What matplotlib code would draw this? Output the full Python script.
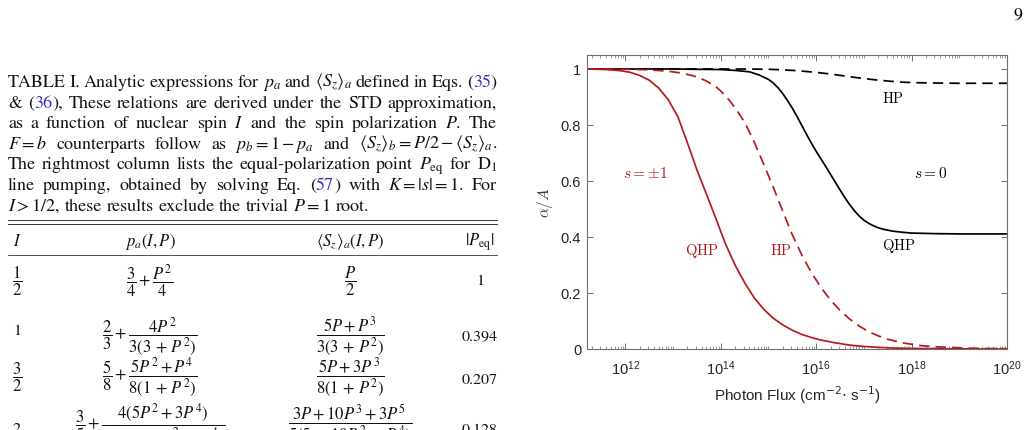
import re

import matplotlib
matplotlib.use("Agg")
import matplotlib.pyplot as plt
import numpy as np
from matplotlib.ticker import LogLocator, NullFormatter
from matplotlib.transforms import IdentityTransform

# ---- curve data (x given as log10 of photon flux) ----
RED_QHP_LOGX = [11.2, 11.6, 11.9, 12.1, 12.3, 12.5, 12.7, 12.9, 13.1, 13.3, 13.5, 13.7, 13.9, 14.1,
                14.3, 14.5, 14.7, 14.9, 15.1, 15.3, 15.5, 15.7, 15.9, 16.1, 16.4, 16.7, 17.0, 17.5,
                18.0, 19.0, 20.0]
RED_QHP = [1.0, 0.998, 0.994, 0.988, 0.977, 0.96, 0.932, 0.89, 0.83, 0.737, 0.64, 0.553, 0.465, 0.375,
           0.3, 0.237, 0.183, 0.142, 0.11, 0.086, 0.067, 0.052, 0.041, 0.032, 0.022, 0.014, 0.009, 0.004,
           0.002, 0.0005, 0.0]

RED_HP_LOGX = [11.2, 12.0, 12.5, 12.9, 13.2, 13.5, 13.7, 13.9, 14.1, 14.3, 14.5, 14.7, 14.9, 15.1,
               15.3, 15.5, 15.7, 15.9, 16.1, 16.3, 16.5, 16.7, 16.9, 17.1, 17.3, 17.5, 17.8, 18.2,
               18.6, 19.0, 19.5, 20.0]
RED_HP = [1.0, 0.999, 0.997, 0.992, 0.985, 0.972, 0.957, 0.937, 0.905, 0.862, 0.81, 0.74, 0.66, 0.578,
          0.492, 0.408, 0.335, 0.273, 0.22, 0.175, 0.138, 0.107, 0.082, 0.062, 0.047, 0.035, 0.022, 0.012,
          0.007, 0.004, 0.002, 0.001]

BLACK_QHP_LOGX = [11.2, 13.0, 14.0, 14.3, 14.6, 14.8, 15.0, 15.1, 15.2, 15.3, 15.4, 15.5, 15.6, 15.7,
                  15.8, 15.9, 16.0, 16.2, 16.4, 16.5, 16.6, 16.7, 16.8, 16.9, 17.0, 17.1, 17.2, 17.3,
                  17.4, 17.6, 17.8, 18.0, 18.5, 19.0, 20.0]
BLACK_QHP = [1.0, 1.0, 0.998, 0.995, 0.99, 0.979, 0.963, 0.95, 0.933, 0.912, 0.887, 0.86, 0.83, 0.798,
             0.766, 0.735, 0.706, 0.652, 0.596, 0.568, 0.541, 0.516, 0.494, 0.475, 0.46, 0.449, 0.44, 0.433,
             0.428, 0.421, 0.417, 0.414, 0.412, 0.411, 0.411]

BLACK_HP_LOGX = [11.2, 14.5, 15.0, 15.3, 15.6, 16.0, 16.3, 16.6, 16.9, 17.2, 17.5, 17.8, 18.1, 18.5,
                 19.0, 20.0]
BLACK_HP = [1.0, 1.0, 0.999, 0.997, 0.994, 0.988, 0.982, 0.975, 0.968, 0.962, 0.957, 0.953, 0.951, 0.950,
            0.949, 0.949]

Y_TICKS = [0, 0.2, 0.4, 0.6, 0.8, 1.0]
Y_TICK_LABELS = ["0", "0.2", "0.4", "0.6", "0.8", "1"]
X_TICKS = [1e12, 1e14, 1e16, 1e18, 1e20]

# ---- table text ----
CAPTION = [
    "TABLE I.  Analytic expressions for $p_a$ and $\\langle S_z\\rangle_a$ defined in Eqs. ([35])",
    "& ([36]), These relations are derived under the STD approximation,",
    "as a function of nuclear spin $I$ and the spin polarization $P$.  The",
    "$F=b$ counterparts follow as $p_b=1-p_a$ and $\\langle S_z\\rangle_b=P/2-\\langle S_z\\rangle_a$.",
    "The rightmost column lists the equal-polarization point $P_{\\mathrm{eq}}$ for D$_1$",
    "line pumping, obtained by solving Eq. ([57]) with $K=|s|=1$.  For",
    "$I>1/2$, these results exclude the trivial $P=1$ root.",
]
HEADERS = ["$I$", "$p_a(I,P)$", "$\\langle S_z\\rangle_a(I,P)$", "$|P_{\\mathrm{eq}}|$"]
COL_I = ["$\\dfrac{1}{2}$", "1", "$\\dfrac{3}{2}$", "2"]
COL_PA = [
    "$\\dfrac{3}{4}+\\dfrac{P^2}{4}$",
    "$\\dfrac{2}{3}+\\dfrac{4P^2}{3(3\\,+\\,P^2)}$",
    "$\\dfrac{5}{8}+\\dfrac{5P^2+P^4}{8(1\\,+\\,P^2)}$",
    "$\\dfrac{3}{5}+\\dfrac{4(5P^2+3P^4)}{5(5\\,+\\,10P^2\\,+\\,P^4)}$",
]
COL_SZ = [
    "$\\dfrac{P}{2}$",
    "$\\dfrac{5P+P^3}{3(3\\,+\\,P^2)}$",
    "$\\dfrac{5P+3P^3}{8\\left(1\\,+\\,P^2\\right)}$",
    "$\\dfrac{3P+10P^3+3P^5}{5(5\\,+\\,10P^2\\,+\\,P^4)}$",
]
COL_PEQ = ["1", "0.394", "0.207", "0.128"]

W, H, DPI = 1029, 431, 100
RED = "#b31b20"
LINK = "#3030c0"
INK = "#111111"
SERIF = "STIXGeneral"
CAP_SIZE = 13.0
TAB_SIZE = 12.0
NUM_SIZE = 11.5


def px(x, y):
    # pixel from top-left -> display coords
    return x, H - y


def split_words(line):
    words, cur, in_math = [], "", False
    for ch in line:
        if ch == "$":
            in_math = not in_math
        if ch == " " and not in_math:
            if cur:
                words.append(cur)
            cur = ""
        else:
            cur += ch
    if cur:
        words.append(cur)
    return words


def put_line(fig, renderer, line, x0, x1, y, justify):
    words = []
    for w in split_words(line):
        parts = re.split(r"\[(.*?)\]", w)
        words.append([(p, LINK if i % 2 else INK) for i, p in enumerate(parts) if p])
    placed, total = [], 0.0
    for segs in words:
        row, width = [], 0.0
        for s, c in segs:
            t = fig.text(0, 0, s, color=c, fontsize=CAP_SIZE, family=SERIF, math_fontfamily="stix",
                         va="baseline", ha="left", transform=IdentityTransform())
            tw = t.get_window_extent(renderer).width
            row.append((t, tw))
            width += tw
        placed.append((row, width))
        total += width
    gap = (x1 - x0 - total) / (len(placed) - 1) if justify else CAP_SIZE * 0.25 * DPI / 72
    x = x0
    for row, width in placed:
        for t, tw in row:
            t.set_position(px(x, y))
            x += tw
        x += gap


def cell(fig, x, y, s, ha="center", va="center", size=TAB_SIZE):
    fig.text(*px(x, y), s, fontsize=size, family=SERIF, math_fontfamily="stix", color=INK,
             ha=ha, va=va, transform=IdentityTransform())


fig = plt.figure(figsize=(W / DPI, H / DPI), dpi=DPI)
fig.patch.set_facecolor("white")
renderer = fig.canvas.get_renderer()

# page number
fig.text(*px(1023, 20), "9", fontsize=13, family=SERIF, ha="right", va="baseline",
         transform=IdentityTransform())

# caption, justified
for i, line in enumerate(CAPTION):
    put_line(fig, renderer, line, 8, 497, 87 + i * 20.6, justify=i < len(CAPTION) - 1)

# rules
for yy, lw in [(220.5, 0.7), (225.0, 0.7), (256.0, 0.6)]:
    fig.add_artist(plt.Line2D([8 / W, 497 / W], [1 - yy / H, 1 - yy / H], color="#333333", lw=lw))

col_x = [17, 150, 350, 480]
for x, s in zip(col_x, HEADERS):
    cell(fig, x, 246, s, va="baseline")

row_y = [281.5, 336.5, 377.0, 424.5]
i_shift = [0, -5, 0, 5]
peq_shift = [0, 0, 3, 5.5]
for r, y in enumerate(row_y):
    plain = not COL_I[r].startswith("$")
    cell(fig, col_x[0], y + i_shift[r], COL_I[r], size=NUM_SIZE if plain else TAB_SIZE)
    cell(fig, col_x[1], y, COL_PA[r])
    cell(fig, col_x[2], y, COL_SZ[r])
    cell(fig, col_x[3], y + peq_shift[r], COL_PEQ[r], size=NUM_SIZE)

# ---- plot ----
ax = fig.add_axes([586.7 / W, (H - 350) / H, (1007 - 586.7) / W, (350 - 56) / H])
ax.plot(10 ** np.array(BLACK_QHP_LOGX), BLACK_QHP, color="black", lw=1.25)
ax.plot(10 ** np.array(BLACK_HP_LOGX), BLACK_HP, color="black", lw=1.25, ls=(0, (6, 3.5)))
ax.plot(10 ** np.array(RED_QHP_LOGX), RED_QHP, color=RED, lw=1.25)
ax.plot(10 ** np.array(RED_HP_LOGX), RED_HP, color=RED, lw=1.25, ls=(0, (6, 3.5)))

ax.set_xscale("log")
ax.set_xlim(10 ** 11.19, 1e20)
ax.set_ylim(0, 1.05)
ax.set_xticks(X_TICKS)
ax.xaxis.set_minor_locator(LogLocator(base=10, subs=np.arange(1, 10), numticks=100))
ax.xaxis.set_minor_formatter(NullFormatter())
ax.set_yticks(Y_TICKS)
ax.set_yticklabels(Y_TICK_LABELS)

for sp in ax.spines.values():
    sp.set_color("#6e6e6e")
    sp.set_linewidth(0.8)
ax.tick_params(which="both", direction="in", top=True, right=True, color="#6e6e6e",
               labelcolor="#262626", labelsize=10.5)
ax.tick_params(which="major", length=4, width=0.7)
ax.tick_params(which="minor", length=2, width=0.5)
ax.tick_params(axis="x", pad=7)
ax.tick_params(axis="y", pad=4)
for lab in ax.get_xticklabels() + ax.get_yticklabels():
    lab.set_family("Liberation Sans")

ax.set_xlabel("Photon Flux (cm$^{-2}$$\\cdot$ s$^{-1}$)", fontsize=11, family="Liberation Sans",
              color="#262626", math_fontfamily="dejavusans")
ax.xaxis.set_label_coords(0.5, -(395 - 350) / 294)
ax.xaxis.label.set_va("center")
ax.set_ylabel("$\\alpha/A$", fontsize=11, color="#333333", math_fontfamily="cm")
ax.yaxis.set_label_coords(-(586.7 - 545) / 420.3, 0.5)
ax.yaxis.label.set_va("center")

ax.text(10 ** 17.61, 0.899, "$\\mathrm{HP}$", fontsize=10.5, math_fontfamily="cm", ha="center", va="center")
ax.text(10 ** 18.4, 0.631, "$s=0$", fontsize=11, math_fontfamily="cm", ha="center", va="center")
ax.text(10 ** 17.73, 0.371, "$\\mathrm{QHP}$", fontsize=10.5, math_fontfamily="cm", ha="center", va="center")
ax.text(10 ** 12.42, 0.631, "$s=\\pm1$", fontsize=11, math_fontfamily="cm", color=RED,
        ha="center", va="center")
ax.text(10 ** 13.61, 0.355, "$\\mathrm{QHP}$", fontsize=10.5, math_fontfamily="cm", color=RED,
        ha="center", va="center")
ax.text(10 ** 15.26, 0.355, "$\\mathrm{HP}$", fontsize=10.5, math_fontfamily="cm", color=RED,
        ha="center", va="center")

fig.savefig("out.png", dpi=DPI, facecolor="white")
